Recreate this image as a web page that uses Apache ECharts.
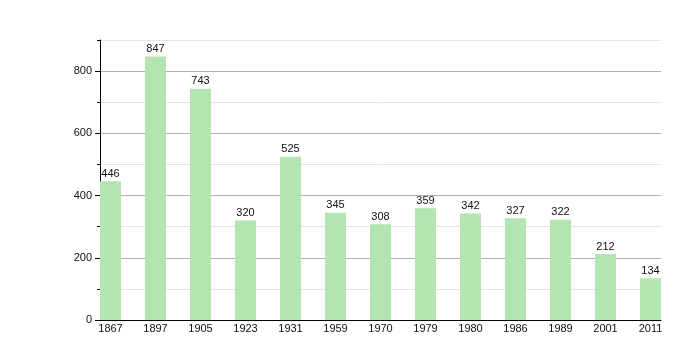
<!DOCTYPE html>
<html>
<head>
<meta charset="utf-8">
<script src="https://cdn.jsdelivr.net/npm/echarts@6/dist/echarts.min.js"></script>
<style>html,body{margin:0;padding:0;background:#fff}#c{width:700px;height:360px}</style>
</head>
<body>
<div id="c"></div>
<script>
const years = ['1867','1897','1905','1923','1931','1959','1970','1979','1980','1986','1989','2001','2011'];
const population = [446, 847, 743, 320, 525, 345, 308, 359, 342, 327, 322, 212, 134];
const yTicks = [0, 200, 400, 600, 800];
const yMinorTicks = [100, 300, 500, 700, 900];

const chart = echarts.init(document.getElementById('c'), null, {renderer: 'canvas'});
const font = 'Liberation Sans';
chart.setOption({
  animation: false,
  grid: {left: 100, right: 39, top: 40, bottom: 40},
  xAxis: {
    type: 'value',
    min: -0.2333, max: 12.2333,
    axisLine: {show: true, onZero: false, lineStyle: {color: '#000', width: 1}},
    axisTick: {show: false},
    splitLine: {show: false},
    axisLabel: {
      customValues: years.map((y, i) => i),
      formatter: v => years[Math.round(v)],
      margin: 3, fontSize: 11, color: '#111', fontFamily: font
    }
  },
  yAxis: [{
    type: 'value', min: 0, max: 900, interval: 100,
    axisLine: {show: true, onZero: false, lineStyle: {color: '#000', width: 1}},
    axisTick: {show: true, customValues: yTicks, length: 5, lineStyle: {color: '#000'}},
    splitLine: {show: true, lineStyle: {color: '#b0b0b0', width: 1}},
    axisLabel: {
      customValues: yTicks,
      margin: 8, fontSize: 11, color: '#111', fontFamily: font
    }
  }, {
    type: 'value', min: 0, max: 900, interval: 100, position: 'left',
    axisLine: {show: false, onZero: false},
    axisTick: {show: true, customValues: yMinorTicks, length: 3, lineStyle: {color: '#000'}},
    splitLine: {show: true, lineStyle: {color: '#e4e4e4', width: 1}},
    axisLabel: {show: false}
  }],
  series: [{
    type: 'bar',
    barWidth: 21,
    data: population.map((v, i) => [i, v]),
    itemStyle: {color: '#b3e4b1'},
    label: {
      show: true, position: 'top', distance: 2,
      formatter: p => p.value[1],
      fontSize: 11, color: '#111', fontFamily: font
    }
  }]
});
</script>
</body>
</html>
